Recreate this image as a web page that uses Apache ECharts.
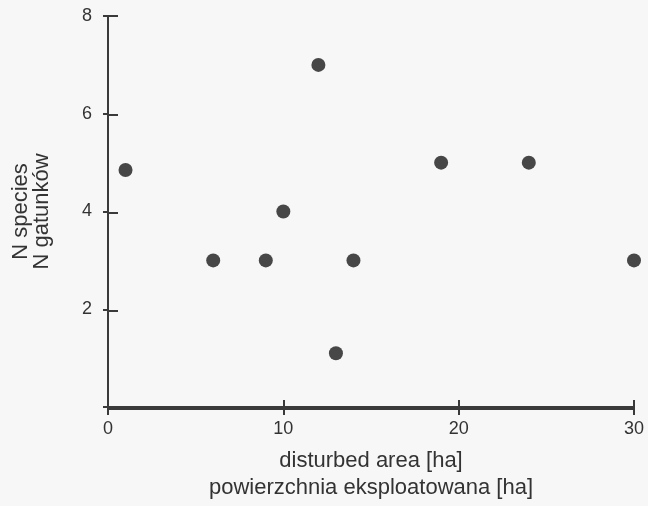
<!DOCTYPE html>
<html>
<head>
<meta charset="utf-8">
<script src="https://cdn.jsdelivr.net/npm/echarts@6/dist/echarts.min.js"></script>
<style>
html,body{margin:0;padding:0;background:#f7f7f7;}
#chart{width:648px;height:506px;}
</style>
</head>
<body>
<div id="chart"></div>
<script>
const areaHa = [1, 6, 9, 10, 12, 13, 14, 19, 24, 30];
const nSpecies = [4.85, 3, 3, 4, 7, 1.1, 3, 5, 5, 3];
const xTicks = [0, 10, 20, 30];
const yTicks = [0, 2, 4, 6, 8];
const xName = 'disturbed area [ha]\npowierzchnia eksploatowana [ha]';
const yName = 'N species\nN gatunków';

const points = areaHa.map((x, i) => [x, nSpecies[i]]);
const axisColor = '#3a3a3a';
const textColor = '#333';
const font = 'Liberation Sans, Arial, sans-serif';
const gL = 108, gR = 14, gT = 16, gB = 97;

const xMin = xTicks[0], xMax = xTicks[xTicks.length - 1];
const yMin = yTicks[0], yMax = yTicks[yTicks.length - 1];
const ghostLabel = {show: true, color: 'rgba(0,0,0,0)', fontSize: 8, hideOverlap: false};

const chart = echarts.init(document.getElementById('chart'));
chart.setOption({
  backgroundColor: '#f7f7f7',
  animation: false,
  grid: [
    {left: gL, right: gR, top: gT, bottom: gB},
    {left: gL, right: gR, top: gT, bottom: gB}
  ],
  xAxis: [{
    gridIndex: 0,
    type: 'value', min: xMin, max: xMax, interval: 10,
    splitLine: {show: false},
    axisLine: {onZero: false, lineStyle: {color: axisColor, width: 2}},
    axisTick: {inside: false, length: 8, lineStyle: {color: axisColor, width: 2}},
    axisLabel: {color: textColor, fontSize: 18, fontFamily: font, margin: 13},
    name: xName, nameLocation: 'middle', nameGap: 40,
    nameTextStyle: {color: textColor, fontSize: 22, fontFamily: font, lineHeight: 27}
  }, {
    gridIndex: 1,
    type: 'value', min: xMin, max: xMax, interval: 10,
    splitLine: {show: false},
    axisLine: {show: true, onZero: false, lineStyle: {color: axisColor, width: 2}},
    axisTick: {show: true, inside: true, length: 9, customValues: xTicks,
      lineStyle: {color: axisColor, width: 2}},
    axisLabel: Object.assign({customValues: xTicks}, ghostLabel)
  }],
  yAxis: [{
    gridIndex: 0,
    type: 'value', min: yMin, max: yMax, interval: 2,
    splitLine: {show: false},
    axisLine: {onZero: false, lineStyle: {color: axisColor, width: 2}},
    axisTick: {inside: false, length: 5, lineStyle: {color: axisColor, width: 2}},
    axisLabel: {color: textColor, fontSize: 18, fontFamily: font, margin: 16,
      formatter: v => (v === 0 ? '' : String(v))},
    name: yName, nameLocation: 'middle', nameGap: 56, nameRotate: 90,
    nameTextStyle: {color: textColor, fontSize: 22, fontFamily: font, lineHeight: 21}
  }, {
    gridIndex: 1,
    type: 'value', min: yMin, max: yMax, interval: 2,
    splitLine: {show: false},
    axisLine: {show: true, onZero: false, lineStyle: {color: axisColor, width: 2}},
    axisTick: {show: true, inside: true, length: 10, customValues: yTicks,
      lineStyle: {color: axisColor, width: 2}},
    axisLabel: Object.assign({customValues: yTicks}, ghostLabel)
  }],
  series: [{
    type: 'scatter', xAxisIndex: 0, yAxisIndex: 0, data: points, symbolSize: 14,
    itemStyle: {color: '#1a1a1a'}
  }, {
    type: 'scatter', xAxisIndex: 1, yAxisIndex: 1, data: points, symbolSize: 0,
    silent: true, itemStyle: {opacity: 0}
  }]
});
</script>
</body>
</html>
